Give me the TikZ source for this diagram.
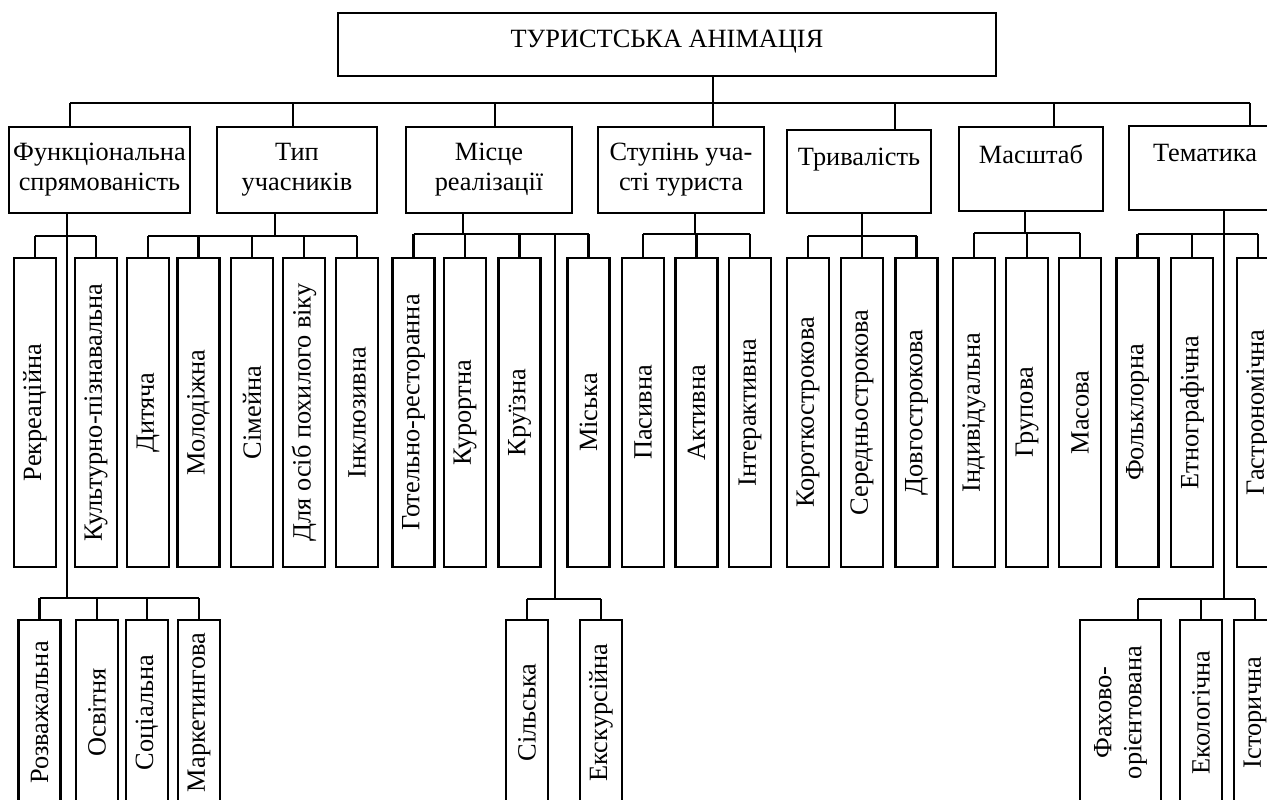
\documentclass[tikz,border=0pt]{standalone}
\usepackage{fontspec}
\setmainfont{Liberation Serif}
\tikzset{ % Box styles, sizes given in pixels of the layout
	hbox/.style 2 args={draw, align=center, inner sep=0pt,
		minimum width=#1*0.02cm, minimum height=#2*0.02cm,
		font=\fontsize{15}{17}\selectfont},
	vbox/.style 2 args={draw, rotate=90, align=center, inner sep=0pt,
		minimum width=#1*0.02cm, minimum height=#2*0.02cm,
		font=\fontsize{15}{17}\selectfont}
}
\begin{document}
\begin{tikzpicture}[x=0.02cm, y=-0.02cm, line width=1.2pt]
	% Frame
	\fill[white] (0,0) rectangle (1267,799);
	\useasboundingbox (0,0) rectangle (1267,799);
	\clip (0,0) rectangle (1267,799);
	% Root
	\node[hbox={658}{63}, text depth=6pt] (root) at (667,44.5) {ТУРИСТСЬКА АНІМАЦІЯ};
	% Criteria
	\node[hbox={181}{86}] (fun) at (99.5,170) {Функціональна\\спрямованість};
	\node[hbox={160}{86}] (typ) at (297,170) {Тип\\учасників};
	\node[hbox={166}{86}] (mis) at (489,170) {Місце\\реалізації};
	\node[hbox={166}{86}] (stu) at (681,170) {Ступінь уча-\\сті туриста};
	\node[hbox={144}{83}] (try) at (859,171.5) {Тривалість\\\phantom{Т}};
	\node[hbox={144}{84}] (mas) at (1031,169) {Масштаб\\\phantom{Т}};
	\node[hbox={152}{84}] (tem) at (1205,168) {Тематика\\\phantom{Т}};
	% Kinds, upper row
	\foreach \n/\x/\t in {r1/35/Рекреаційна, r2/96/Культурно-пізнавальна,
		t1/148/Дитяча, t2/198.5/Молодіжна, t3/252/Сімейна, t4/304/Для осіб похилого віку, t5/357/Інклюзивна,
		m1/413.5/Готельно-ресторанна, m2/465/Курортна, m3/519.5/Круїзна, m4/588.5/Міська,
		s1/643/Пасивна, s2/696.5/Активна, s3/750/Інтерактивна,
		d1/808/Короткострокова, d2/862/Середньострокова, d3/916.5/Довгострокова,
		k1/974/Індивідуальна, k2/1027/Групова, k3/1080/Масова,
		e1/1137.5/Фольклорна, e2/1192/Етнографічна, e3/1258/Гастрономічна}
		\node[vbox={309}{42}] (\n) at (\x,412.5) {\t};
	% Kinds, lower row
	\foreach \n/\x/\t in {f1/39.5/Розважальна, f2/97/Освітня, f3/147/Соціальна, f4/199/Маркетингова,
		g1/527/Сільська, g2/601/Екскурсійна, h2/1201/Екологічна, h3/1255/Історична}
		\node[vbox={185}{42}] (\n) at (\x,712.5) {\t};
	\node[vbox={185}{81}] (h1) at (1120.5,712.5) {Фахово-\\орієнтована};
	% Root to criteria
	\foreach \n/\x in {fun/70, typ/293, mis/495, stu/713, try/895, mas/1054, tem/1250}{
		\coordinate (b\n) at (\x,103);
		\draw (b\n) -- (b\n |- \n.north);
	}
	\draw (bfun) -- (btem);
	\draw (root.south -| bstu) -- (bstu);
	% Criteria to upper row
	\foreach \n/\x/\h in {fun/67/236, typ/275/236, mis/463/234, stu/695/234, try/862/236, mas/1025/233, tem/1224/234}{
		\coordinate (s\n) at (\x,\h);
		\draw (s\n |- \n.south) -- (s\n);
	}
	\draw (r1.east |- sfun) -- (r2.east |- sfun);
	\draw (t1.east |- styp) -- (t5.east |- styp);
	\draw (m1.east |- smis) -- (m4.east |- smis);
	\draw (s1.east |- sstu) -- (s3.east |- sstu);
	\draw (d1.east |- stry) -- (d3.east |- stry);
	\draw (k1.east |- smas) -- (k3.east |- smas);
	\draw (e1.east |- stem) -- (e3.east |- stem);
	\foreach \n/\s in {r1/fun, r2/fun, t1/typ, t2/typ, t3/typ, t4/typ, t5/typ,
		m1/mis, m2/mis, m3/mis, m4/mis, s1/stu, s2/stu, s3/stu,
		d1/try, d2/try, d3/try, k1/mas, k2/mas, k3/mas, e1/tem, e2/tem, e3/tem}
		\draw (\n.east |- s\s) -- (\n.east);
	% Long lines to lower row
	\coordinate (lfun) at (67,598);
	\coordinate (lmis) at (555,599);
	\coordinate (ltem) at (1224,599);
	\coordinate (hdrop) at (1138,599);
	\draw (sfun) -- (lfun);
	\draw (lmis |- smis) -- (lmis);
	\draw (stem) -- (ltem);
	\draw (f1.east |- lfun) -- (f4.east |- lfun);
	\draw (g1.east |- lmis) -- (g2.east |- lmis);
	\draw (hdrop) -- (h3.east |- ltem);
	\draw (hdrop) -- (hdrop |- h1.east);
	\foreach \n/\s in {f1/fun, f2/fun, f3/fun, f4/fun, g1/mis, g2/mis, h2/tem, h3/tem}
		\draw (\n.east |- l\s) -- (\n.east);
\end{tikzpicture}
\end{document}
